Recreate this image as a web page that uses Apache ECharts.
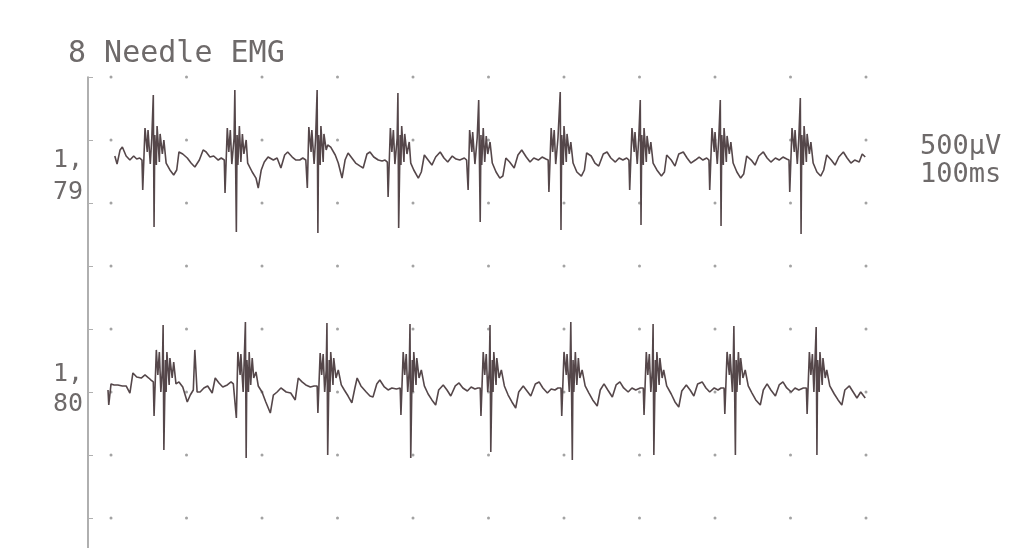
<!DOCTYPE html>
<html>
<head>
<meta charset="utf-8">
<script src="https://cdn.jsdelivr.net/npm/echarts@6/dist/echarts.min.js"></script>
<style>
  html, body { margin: 0; padding: 0; background: #ffffff; }
  #chart { width: 1030px; height: 548px; }
</style>
</head>
<body>
<div id="chart"></div>
<script>
// ---- data (time in ms, amplitude in µV relative to each trace's baseline) ----
const xTicks = [0, 100, 200, 300, 400, 500, 600, 700, 800, 900, 1000];
const yTicks = [0, 500, 1000, 1500, 2000, 2500, 3000, 3500];

const titleText = '8 Needle EMG';
const trace1Label = '1,\n79';
const trace2Label = '1,\n80';
const scaleLabel = '500\u00b5V\n100ms';

const trace1Baseline = 2857;  // µV on the page scale
const trace2Baseline = 1016;

const trace1 = [
  [5,16],[8,-48],[12,64],[15,87],[20,16],[25,-16],[30,16],[34,-8],[38,0],
  [41,-16],[42,-254],[45,238],[48,48],[49,222],[52,-48],[54,159],[56,500],[57,-548],[58,183],[60,-56],[61,254],[64,-32],[65,191],[68,32],[70,143],[73,-40],[78,-95],[83,-135],[87,-95],[90,48],[95,32],[101,0],[106,-40],[111,-71],[117,-16],[122,64],[126,48],[131,8],[136,16],[142,-16],[146,0],
  [150,-16],[151,-278],[154,238],[156,48],[158,222],[160,-48],[163,159],[164,540],[166,-588],[167,183],[168,-56],[170,254],[172,-32],[174,191],[176,32],[179,143],[181,-40],[187,-111],[192,-159],[195,-238],[199,-95],[203,-32],[208,8],[215,-16],[220,0],[225,-79],[230,24],[234,48],[240,8],[245,-16],[250,-16],[254,0],
  [258,-16],[260,-238],[262,246],[265,48],[266,222],[269,-48],[271,159],[273,540],[274,-596],[275,183],[277,-56],[278,254],[281,-32],[282,191],[285,64],[287,103],[291,87],[297,24],[301,-40],[306,-159],[310,-16],[314,40],[319,0],[324,-40],[330,-64],[334,-79],[339,32],[343,48],[348,8],[354,-16],[359,-24],[363,-16],
  [366,-32],[367,-310],[370,238],[372,48],[374,222],[376,-48],[379,159],[380,516],[381,-556],[383,183],[384,-56],[385,254],[388,-32],[389,191],[392,32],[395,127],[397,-40],[401,-95],[407,-159],[411,-111],[415,24],[420,-16],[425,-56],[430,8],[436,48],[441,0],[446,-32],[452,16],[457,-8],[462,-16],[468,0],
  [471,-16],[473,-254],[475,222],[478,48],[479,206],[482,-48],[485,159],[487,460],[489,-508],[490,183],[491,-56],[493,238],[495,-32],[497,175],[499,32],[502,127],[505,-40],[510,-111],[515,-159],[519,-143],[523,0],[528,-32],[534,-79],[539,24],[544,64],[550,8],[555,-32],[560,0],[566,-16],[571,8],[576,-8],
  [579,-16],[580,-270],[583,238],[585,48],[587,222],[589,-48],[592,159],[595,524],[596,-572],[597,183],[599,-56],[600,254],[603,-32],[604,191],[607,32],[609,127],[612,-40],[617,-111],[623,-143],[627,-95],[630,40],[636,16],[641,-40],[646,-64],[652,32],[657,48],[662,0],[668,-32],[673,0],[678,-16],[683,0],
  [686,-16],[687,-254],[690,238],[693,48],[694,206],[697,-48],[699,159],[701,460],[702,-532],[703,183],[705,-56],[706,238],[709,-32],[710,175],[713,32],[715,127],[718,-40],[723,-95],[729,-143],[733,-111],[736,24],[742,-16],[747,-64],[752,32],[758,48],[763,0],[768,-40],[774,-16],[779,8],[784,-16],[789,0],
  [792,-16],[793,-254],[796,238],[799,48],[800,206],[803,-48],[805,159],[807,460],[808,-540],[809,183],[811,-56],[812,238],[815,-32],[816,175],[819,32],[821,127],[824,-40],[829,-111],[834,-159],[838,-127],[842,16],[848,-16],[853,-56],[858,16],[864,48],[869,0],[874,-32],[880,0],[885,-16],[890,8],[895,-8],
  [898,-16],[899,-270],[902,238],[905,48],[906,222],[909,-48],[911,159],[913,476],[914,-603],[915,183],[917,-56],[918,254],[921,-32],[922,191],[925,32],[927,127],[930,-40],[935,-111],[940,-143],[944,-95],[948,24],[954,-16],[959,-56],[964,8],[970,48],[975,0],[980,-40],[985,-16],[991,-32],[995,32],[999,8]
];

const trace2 = [
  [-4,0],[-3,-119],[0,48],[4,40],[9,40],[15,32],[20,32],[25,-24],[29,135],[34,103],[40,95],[45,119],[50,95],[53,79],
  [56,64],[57,-206],[60,318],[62,119],[64,302],[66,-16],[68,159],[69,516],[70,-476],[72,238],[73,-16],[74,302],[77,40],[78,254],[81,95],[83,222],[86,48],[90,64],[95,24],[101,-95],[105,-40],[109,0],[111,318],[114,-16],[118,-16],[123,16],[128,32],[134,-24],[138,95],[143,56],[148,24],[154,40],[159,64],[162,48],
  [164,48],[166,-222],[168,302],[171,119],[172,286],[175,-16],[176,159],[178,540],[179,-540],[180,238],[182,-16],[183,302],[185,40],[187,254],[189,95],[192,143],[195,32],[200,-16],[205,-95],[211,-183],[215,-40],[220,-16],[225,16],[232,-16],[238,-24],[244,-79],[248,95],[253,64],[258,40],[264,24],[269,32],
  [273,32],[274,-183],[277,294],[279,119],[281,286],[283,-16],[285,159],[286,532],[287,-516],[289,238],[290,-16],[291,302],[294,40],[295,254],[298,95],[301,159],[305,40],[309,0],[314,-48],[319,-103],[323,16],[326,95],[331,32],[338,-16],[343,-48],[347,-56],[352,48],[356,79],[362,24],[367,0],[372,16],[378,8],
  [383,16],[384,-198],[387,302],[389,119],[391,286],[393,-16],[395,159],[396,524],[397,-540],[399,238],[400,-16],[401,302],[404,40],[405,254],[408,95],[411,159],[415,32],[420,-32],[425,-79],[430,-119],[434,0],[440,40],[445,0],[450,-48],[456,32],[461,56],[466,16],[472,-8],[477,24],[482,8],[486,16],
  [489,16],[490,-206],[493,302],[495,119],[497,286],[499,-16],[501,159],[502,516],[503,-492],[505,238],[506,-16],[507,302],[510,40],[511,254],[514,95],[517,159],[521,32],[526,-40],[531,-95],[536,-143],[540,-16],[546,32],[551,-8],[556,-48],[562,48],[567,64],[572,16],[578,-24],[583,8],[588,0],[592,16],
  [596,16],[597,-206],[600,302],[603,119],[604,286],[607,-16],[608,159],[609,540],[611,-556],[612,238],[613,-16],[615,302],[617,40],[619,254],[621,95],[624,159],[628,32],[633,-24],[638,-79],[644,-127],[648,0],[653,48],[658,0],[664,-56],[669,40],[674,64],[679,16],[685,-16],[690,16],[695,0],[701,16],
  [705,16],[706,-198],[709,302],[711,119],[713,286],[715,-16],[717,159],[718,524],[719,-516],[721,238],[722,-16],[723,302],[726,40],[727,254],[730,95],[732,159],[736,32],[742,-32],[747,-95],[752,-135],[756,-8],[762,40],[767,0],[772,-48],[777,48],[783,64],[788,16],[793,-16],[799,16],[804,0],[808,16],
  [812,16],[813,-191],[816,302],[819,119],[820,286],[823,-16],[824,159],[825,508],[827,-516],[828,238],[829,-16],[831,302],[833,40],[834,254],[837,95],[840,159],[844,32],[849,-24],[854,-79],[860,-119],[864,0],[869,48],[874,0],[880,-48],[885,40],[890,64],[895,16],[901,-16],[906,16],[911,0],[917,16],
  [921,16],[922,-191],[925,302],[927,119],[929,286],[931,-16],[932,159],[934,500],[935,-516],[936,238],[938,-16],[939,302],[942,40],[943,254],[946,95],[948,159],[952,32],[958,-32],[963,-79],[968,-119],[972,0],[978,32],[983,-16],[988,-64],[993,-16],[999,-64]
];

// ---- build chart ----
const gridDots = [];
xTicks.forEach(function (x) { yTicks.forEach(function (y) { gridDots.push([x, y]); }); });

const shift = function (arr, base) { return arr.map(function (p) { return [p[0], p[1] + base]; }); };

const chart = echarts.init(document.getElementById('chart'), null, { renderer: 'canvas' });
const mono = '"DejaVu Sans Mono", "Liberation Mono", monospace';
const textColor = '#6e6a6a';

chart.setOption({
  animation: false,
  backgroundColor: '#ffffff',
  grid: { left: 88, right: 164, top: 77, height: 504, outerBoundsMode: 'none', containLabel: false },
  xAxis: {
    type: 'value', min: -30.5, max: 1000,
    show: false
  },
  yAxis: {
    type: 'value', min: -500, max: 3500, interval: 500,
    axisLine: { show: true, onZero: false, lineStyle: { color: '#9c9c9c', width: 1.6 } },
    axisTick: { show: true, inside: true, length: 5, lineStyle: { color: '#b0b0b0', width: 1 } },
    axisLabel: { show: false },
    splitLine: { show: false }
  },
  graphic: [
    { type: 'text', left: 68, top: 39, style: { text: titleText, font: '30px ' + mono, fill: textColor, lineHeight: 30 } },
    { type: 'text', left: 53, top: 144, style: { text: trace1Label, font: '25px ' + mono, fill: textColor, lineHeight: 32 } },
    { type: 'text', left: 53, top: 359, style: { text: trace2Label, font: '25px ' + mono, fill: textColor, lineHeight: 30 } },
    { type: 'text', left: 920, top: 133, style: { text: scaleLabel, font: '27px ' + mono, fill: textColor, lineHeight: 28 } }
  ],
  series: [
    {
      type: 'scatter', data: gridDots, symbol: 'circle', symbolSize: 3,
      itemStyle: { color: '#8c8c8c' }, silent: true, z: 1
    },
    {
      type: 'line', data: shift(trace1, trace1Baseline), showSymbol: false, symbol: 'none',
      lineStyle: { color: '#55474a', width: 1.6 }, silent: true, z: 3
    },
    {
      type: 'line', data: shift(trace2, trace2Baseline), showSymbol: false, symbol: 'none',
      lineStyle: { color: '#55474a', width: 1.6 }, silent: true, z: 3
    }
  ]
});
</script>
</body>
</html>
